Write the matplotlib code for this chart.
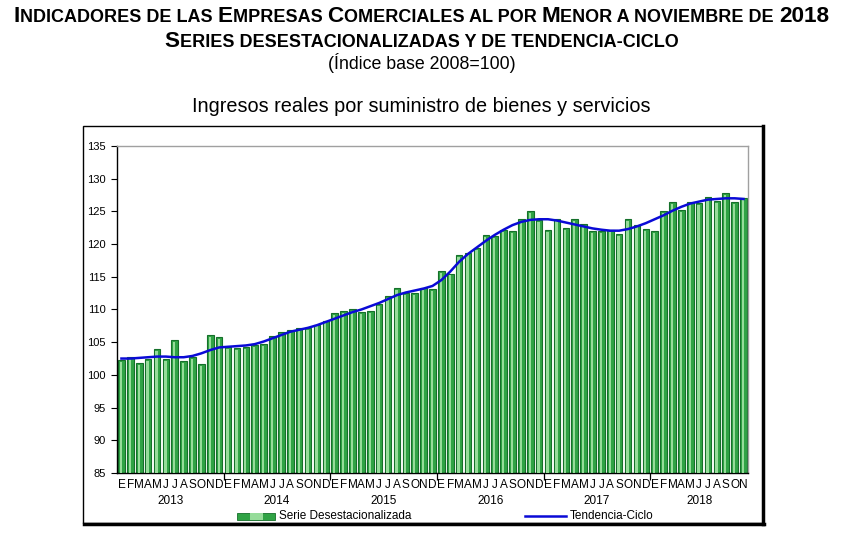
import numpy as np
import matplotlib
matplotlib.use("Agg")
import matplotlib.pyplot as plt
from matplotlib.offsetbox import TextArea, HPacker, AnnotationBbox
from matplotlib.patches import Rectangle
from matplotlib.lines import Line2D

# # # # # data # # # # #

years = ["2013", "2014", "2015", "2016", "2017", "2018"]
month_letters = ["E", "F", "M", "A", "M", "J", "J", "A", "S", "O", "N", "D"]

# serie desestacionalizada, enero 2013 - noviembre 2018
serie = [102.3, 102.7, 101.8, 102.4, 103.9, 102.4, 105.3, 102.1, 102.7, 101.7, 106.05, 105.75,
         104.2, 104.1, 104.3, 104.6, 104.7, 105.9, 106.5, 106.8, 107.1, 107.1, 107.7, 108.2,
         109.5, 109.7, 110.0, 109.6, 109.7, 110.9, 112.0, 113.3, 112.5, 112.5, 113.3, 113.1,
         115.9, 115.5, 118.3, 118.7, 119.4, 121.4, 121.2, 122.2, 122.0, 123.8, 125.0, 123.7,
         122.2, 123.8, 122.5, 123.8, 123.1, 122.0, 122.0, 122.2, 121.5, 123.8, 122.9, 122.3,
         122.0, 125.0, 126.4, 125.2, 126.4, 126.3, 127.15, 126.6, 127.8, 126.4, 127.0]

# tendencia-ciclo
tendencia = [102.5, 102.5, 102.6, 102.7, 102.8, 102.8, 102.7, 102.7, 102.9, 103.3, 103.8, 104.2,
             104.3, 104.4, 104.5, 104.7, 105.1, 105.6, 106.1, 106.6, 106.9, 107.2, 107.6, 108.1,
             108.6, 109.1, 109.6, 110.0, 110.5, 111.0, 111.6, 112.2, 112.6, 112.9, 113.2, 113.6,
             114.5, 115.8, 117.3, 118.5, 119.5, 120.5, 121.4, 122.2, 122.9, 123.4, 123.7, 123.8,
             123.8, 123.6, 123.3, 123.0, 122.7, 122.4, 122.2, 122.05, 122.05, 122.3, 122.7, 123.2,
             123.8, 124.4, 125.1, 125.7, 126.2, 126.5, 126.8, 126.9, 127.0, 127.0, 126.9]

narrow = ["Liberation Sans Narrow", "Liberation Sans", "DejaVu Sans"]
arial = ["Liberation Sans", "DejaVu Sans"]

n = len(serie)
x = np.arange(n)
labels = [month_letters[i % 12] for i in range(n)]

# # # # # figure # # # # #

fig = plt.figure(figsize=(8.43, 5.47), dpi=100)

# outer frame with shadow on right / bottom
fig.patches.append(Rectangle((0.0985, 0.0439), 0.8066, 0.7258, transform=fig.transFigure,
                             fill=False, edgecolor="black", linewidth=1.0))
fig.lines.append(Line2D([0.9051, 0.9051], [0.0420, 0.7697], transform=fig.transFigure,
                        color="black", linewidth=2.5))
fig.lines.append(Line2D([0.1000, 0.9060], [0.0425, 0.0425], transform=fig.transFigure,
                        color="black", linewidth=2.5))

ax = fig.add_axes([0.1388, 0.1353, 0.7485, 0.5978])

# bars: dark outline, lighter centre stripe to mimic gradient
ax.bar(x, serie, width=0.74, color="#30a345", edgecolor="#15702a", linewidth=0.8, zorder=2)
ax.bar(x - 0.06, np.array(serie) - 0.3, width=0.26, color="#96dc9a", linewidth=0, zorder=3)
ax.plot(x, tendencia, color="#0a0ad6", linewidth=1.8, zorder=4)

ax.set_ylim(85, 135)
ax.set_xlim(-0.5, n - 0.5)
ax.set_yticks(np.arange(85, 136, 5))
ax.tick_params(axis="y", direction="out", length=4, width=0.8, labelsize=8, pad=4)
for lab in ax.get_yticklabels():
    lab.set_family(arial)

# month letters as minor ticks, year boundaries as major ticks
ax.set_xticks(np.arange(11.5, n, 12))
ax.set_xticklabels([])
ax.tick_params(axis="x", which="major", direction="out", length=5, width=0.9)
ax.set_xticks(x, minor=True)
ax.set_xticklabels(labels, minor=True, fontsize=8.5, family=narrow)
ax.tick_params(axis="x", which="minor", length=0, pad=4)

for i, yr in enumerate(years):
    months = x[i * 12:(i + 1) * 12]
    ax.text(months.mean(), -0.085, yr, transform=ax.get_xaxis_transform(),
            ha="center", va="center", fontsize=8.5, family=narrow)

for side in ["top", "right"]:
    ax.spines[side].set_color("#a0a0a0")
    ax.spines[side].set_linewidth(1.0)
for side in ["left", "bottom"]:
    ax.spines[side].set_color("black")
    ax.spines[side].set_linewidth(1.0)

# legend
fig.patches.append(Rectangle((0.2811, 0.0494), 0.0451, 0.0128, transform=fig.transFigure,
                             facecolor="#30a345", edgecolor="#15702a", linewidth=0.6))
fig.patches.append(Rectangle((0.2960, 0.0500), 0.0160, 0.0116, transform=fig.transFigure,
                             facecolor="#96dc9a", linewidth=0))
fig.text(0.3310, 0.0558, "Serie Desestacionalizada", fontsize=8.5, family=narrow,
         va="center", ha="left")
fig.lines.append(Line2D([0.6228, 0.6720], [0.0558, 0.0558], transform=fig.transFigure,
                        color="#0a0ad6", linewidth=1.8))
fig.text(0.6760, 0.0558, "Tendencia-Ciclo", fontsize=8.5, family=narrow,
         va="center", ha="left")


# # # # # titles # # # # #

def small_caps(text, yfrac, big, small):
    """draw text in bold small caps centred at yfrac"""
    runs = []
    for ch in text:
        is_big = ch.isupper() or ch.isdigit()
        if ch == " " and runs:
            is_big = runs[-1][1]
        if runs and runs[-1][1] == is_big:
            runs[-1][0] += ch.upper()
        else:
            runs.append([ch.upper(), is_big])
    boxes = [TextArea(r, textprops=dict(fontsize=big if b else small, fontweight="bold",
                                        family=narrow))
             for r, b in runs]
    pack = HPacker(children=boxes, align="baseline", pad=0, sep=0)
    ab = AnnotationBbox(pack, (0.5, yfrac), xycoords="figure fraction",
                        box_alignment=(0.5, 0.5), frameon=False)
    fig.add_artist(ab)


small_caps("Indicadores de las Empresas Comerciales al por Menor a noviembre de 2018",
           0.9690, 16.2, 13.0)
small_caps("Series desestacionalizadas y de tendencia-ciclo", 0.9235, 16.2, 13.0)
fig.text(0.5, 0.885, "(Índice base 2008=100)", ha="center", va="center",
         fontsize=12.8, family=narrow)
fig.text(0.5, 0.805, "Ingresos reales por suministro de bienes y servicios", ha="center",
         va="center", fontsize=14.3, family=arial)

fig.savefig("out.png", dpi=100)
